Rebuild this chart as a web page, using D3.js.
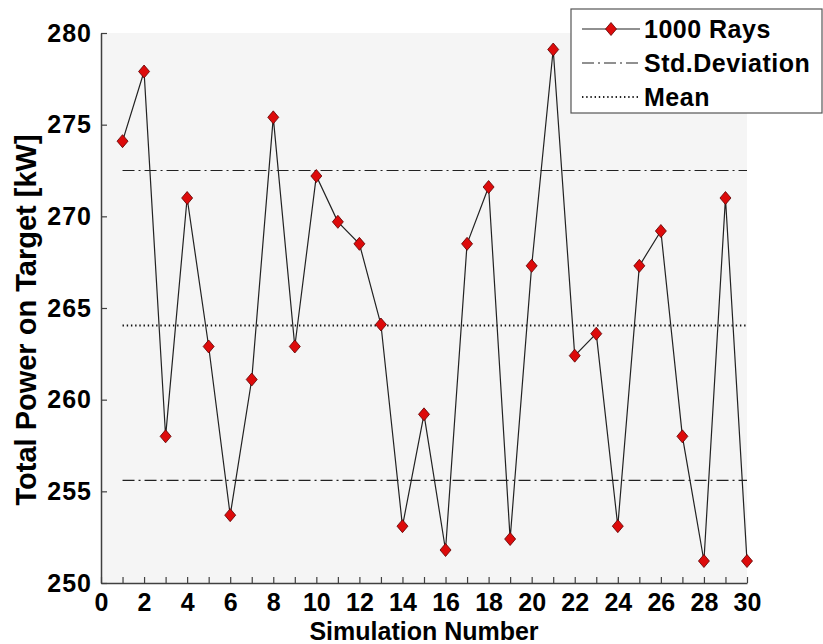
<!DOCTYPE html>
<html>
<head>
<meta charset="utf-8">
<script src="https://cdn.jsdelivr.net/npm/d3@7"></script>
<style>
  body { margin: 0; background: #fff; }
  text { font-family: "Liberation Sans", Arial, sans-serif; font-weight: bold; }
</style>
</head>
<body>
<svg id="chart" width="823" height="644"></svg>
<script>
const runs = d3.range(1, 31);
const power = [
  274.1, 277.9, 258.0, 271.0, 262.9, 253.7, 261.1, 275.4, 262.9, 272.2,
  269.7, 268.5, 264.1, 253.1, 259.2, 251.8, 268.5, 271.6, 252.4, 267.3,
  279.1, 262.4, 263.6, 253.1, 267.3, 269.2, 258.0, 251.2, 271.0, 251.2];
const meanValue = 264.05;
const stdBand = [255.6, 272.5];
const yTicks = [250, 255, 260, 265, 270, 275, 280];
const legendLabels = ['1000 Rays', 'Std.Deviation', 'Mean'];

const svg = d3.select('#chart');
const m = { left: 101, right: 747, top: 33, bottom: 583 };

const x = d3.scaleLinear().domain([0, 30]).range([m.left, m.right]);
const y = d3.scaleLinear().domain([250, 280]).range([m.bottom, m.top]);

// plot background
svg.append('rect')
  .attr('x', m.left)
  .attr('y', m.top)
  .attr('width', m.right - m.left)
  .attr('height', m.bottom - m.top)
  .attr('fill', '#f5f5f5');

// axes (ticks point inward, labels on even runs only)
const xAxis = svg.append('g')
  .attr('transform', `translate(0,${m.bottom})`)
  .call(d3.axisBottom(x).tickValues(d3.range(0, 31)).tickSizeInner(-6).tickSizeOuter(0)
    .tickFormat(d => (d % 2 === 0 ? d : '')));
xAxis.selectAll('text')
  .attr('y', 10)
  .attr('dy', '0.71em')
  .style('font-size', '25px')
  .attr('fill', '#000');

const yAxis = svg.append('g')
  .attr('transform', `translate(${m.left},0)`)
  .call(d3.axisLeft(y).tickValues(yTicks).tickSizeInner(-6).tickSizeOuter(0));
yAxis.selectAll('text')
  .attr('x', -9)
  .style('font-size', '25px')
  .style('letter-spacing', '1px')
  .attr('fill', '#000');

[xAxis, yAxis].forEach((g) => {
  g.select('.domain').attr('stroke', '#404040').attr('stroke-width', 1.5);
  g.selectAll('.tick line').attr('stroke', '#404040').attr('stroke-width', 1.2);
});

// std deviation and mean lines
svg.selectAll('line.std')
  .data(stdBand)
  .enter()
  .append('line')
  .attr('x1', x(1))
  .attr('x2', x(30))
  .attr('y1', d => y(d))
  .attr('y2', d => y(d))
  .attr('stroke', '#222')
  .attr('stroke-width', 1.2)
  .attr('stroke-dasharray', '12,4,2,4');

svg.append('line')
  .attr('x1', x(1))
  .attr('x2', x(30))
  .attr('y1', y(meanValue))
  .attr('y2', y(meanValue))
  .attr('stroke', '#111')
  .attr('stroke-width', 2)
  .attr('stroke-dasharray', '1.4,2.8');

// data line
const line = d3.line()
  .x((d, i) => x(runs[i]))
  .y(d => y(d));

svg.append('path')
  .datum(power)
  .attr('d', line)
  .attr('fill', 'none')
  .attr('stroke', '#222')
  .attr('stroke-width', 1.2);

const diamond = 'M0,-6.5L5.5,0L0,6.5L-5.5,0Z';

svg.selectAll('path.pt')
  .data(power)
  .enter()
  .append('path')
  .attr('class', 'pt')
  .attr('d', diamond)
  .attr('transform', (d, i) => `translate(${x(runs[i])},${y(d)})`)
  .attr('fill', '#dd0b0b')
  .attr('stroke', '#5a0000')
  .attr('stroke-width', 0.8);

// axis titles
svg.append('text')
  .attr('x', (m.left + m.right) / 2)
  .attr('y', 640)
  .attr('text-anchor', 'middle')
  .style('font-size', '25px')
  .text('Simulation Number');

svg.append('text')
  .attr('transform', 'translate(36,320) rotate(-90)')
  .attr('text-anchor', 'middle')
  .style('font-size', '29px')
  .text('Total Power on Target [kW]');

// legend
const lg = svg.append('g');
lg.append('rect')
  .attr('x', 571)
  .attr('y', 9)
  .attr('width', 251)
  .attr('height', 104)
  .attr('fill', '#fff')
  .attr('stroke', '#555')
  .attr('stroke-width', 1.2);

const rowY = [29, 63, 97];
const styles = [
  { dash: null, w: 1.2 },
  { dash: '12,4,2,4', w: 1.2 },
  { dash: '1.4,2.8', w: 2 },
];

legendLabels.forEach((lab, i) => {
  lg.append('line')
    .attr('x1', 582)
    .attr('x2', 640)
    .attr('y1', rowY[i])
    .attr('y2', rowY[i])
    .attr('stroke', '#222')
    .attr('stroke-width', styles[i].w)
    .attr('stroke-dasharray', styles[i].dash);
  lg.append('text')
    .attr('x', 644)
    .attr('y', rowY[i])
    .attr('dy', '0.36em')
    .style('font-size', '25px')
    .style('letter-spacing', '0.5px')
    .text(lab);
});

lg.append('path')
  .attr('d', diamond)
  .attr('transform', `translate(611,${rowY[0]})`)
  .attr('fill', '#dd0b0b')
  .attr('stroke', '#5a0000')
  .attr('stroke-width', 0.8);
</script>
</body>
</html>
